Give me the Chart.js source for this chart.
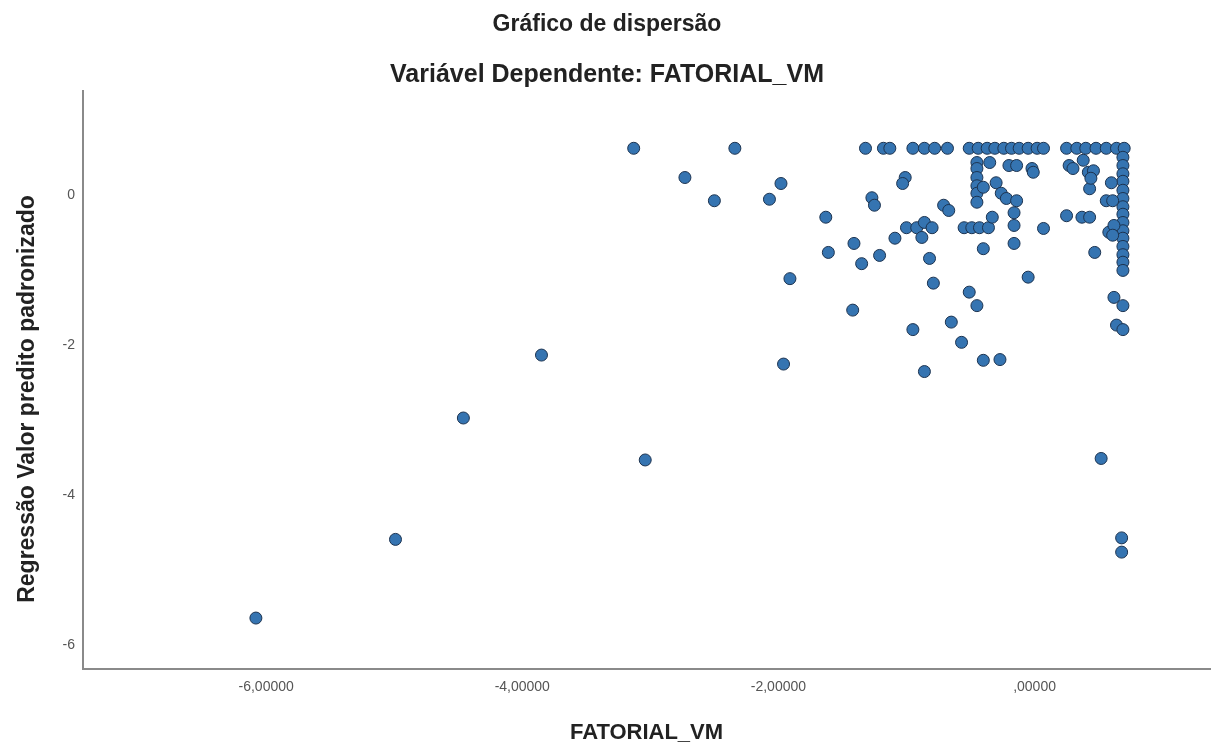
<!DOCTYPE html>
<html lang="pt">
<head>
<meta charset="utf-8">
<title>Gráfico de dispersão</title>
<script src="https://cdn.jsdelivr.net/npm/chart.js@4.4.1/dist/chart.umd.min.js"></script>
<style>
  html, body { margin: 0; padding: 0; background: #fff; }
  .wrap { width: 1217px; height: 746px; position: relative; }
</style>
</head>
<body>
<div class="wrap"><canvas id="scatterChart"></canvas></div>
<script>
// Valores (FATORIAL_VM x valor predito padronizado)
const fatorialVM = [
  // linha superior
  -3.13, -2.34, -1.32, -1.18, -1.13, -0.95, -0.86, -0.78, -0.68, -0.51, -0.44, -0.37, -0.31,
  -0.24, -0.18, -0.12, -0.05, 0.02, 0.07, 0.25, 0.33, 0.40, 0.48, 0.56, 0.64, 0.70,
  // coluna da direita
  0.69, 0.69, 0.69, 0.69, 0.69, 0.69, 0.69, 0.69, 0.69, 0.69, 0.69, 0.69, 0.69, 0.69, 0.69,
  // direita
  0.62, 0.69, 0.64, 0.69, 0.52, 0.68, 0.68,
  0.25, 0.37, 0.43, 0.47, 0.58, 0.62, 0.56, 0.60, 0.43, 0.27, 0.30, 0.38, 0.42, 0.46, 0.44, 0.61, 0.61,
  // meio
  -0.45, -0.35, -0.20, -0.14, -0.02, -0.01,
  -0.45, -0.45, -0.45, -0.45, -0.45,
  -0.40, -0.30, -0.26, -0.22, -0.14, -0.16,
  -0.71, -0.67,
  -0.55, -0.49, -0.43, -0.36, -0.33, -0.16, 0.07,
  -0.40, -0.16, -0.05,
  // meio esquerda
  -1.01, -1.03, -1.27, -1.25, -1.41, -1.21, -1.35, -1.09, -1.00, -0.92, -0.86, -0.88, -0.80, -0.82, -0.79,
  -1.63, -1.61, -1.42, -1.91, -1.96, -1.98, -2.07, -2.50, -2.73,
  // parte de baixo
  -0.51, -0.45, -0.65, -0.95, -0.57, -0.40, -0.27, -0.86,
  // extremo esquerdo
  -6.08, -4.99, -4.46, -3.85, -3.04
];
const valorPredito = [
  0.63, 0.63, 0.63, 0.63, 0.63, 0.63, 0.63, 0.63, 0.63, 0.63, 0.63, 0.63, 0.63,
  0.63, 0.63, 0.63, 0.63, 0.63, 0.63, 0.63, 0.63, 0.63, 0.63, 0.63, 0.63, 0.63,
  0.51, 0.40, 0.29, 0.19, 0.07, -0.04, -0.15, -0.25, -0.36, -0.47, -0.57, -0.68, -0.79, -0.89, -1.00,
  -1.36, -1.47, -1.73, -1.79, -3.51, -4.57, -4.76,
  -0.27, -0.29, -0.29, -0.76, -0.49, -0.40, -0.07, 0.17, 0.09, 0.40, 0.36, 0.47, 0.31, 0.33, 0.23, -0.07, -0.53,
  0.44, 0.44, 0.40, 0.40, 0.36, 0.31,
  0.36, 0.24, 0.13, 0.03, -0.09,
  0.11, 0.17, 0.03, -0.04, -0.07, -0.23,
  -0.13, -0.20,
  -0.43, -0.43, -0.43, -0.43, -0.29, -0.40, -0.44,
  -0.71, -0.64, -1.09,
  0.24, 0.16, -0.03, -0.13, -0.64, -0.80, -0.91, -0.57, -0.43, -0.43, -0.36, -0.56, -0.43, -0.84, -1.17,
  -0.29, -0.76, -1.53, -1.11, -2.25, 0.16, -0.05, -0.07, 0.24,
  -1.29, -1.47, -1.69, -1.79, -1.96, -2.20, -2.19, -2.35,
  -5.64, -4.59, -2.97, -2.13, -3.53
];
const xTicks = [-6, -4, -2, 0];
const xTickLabels = ['-6,00000', '-4,00000', '-2,00000', ',00000'];
const yTicks = [-6, -4, -2, 0];
const yTickLabels = ['-6', '-4', '-2', '0'];

document.addEventListener('DOMContentLoaded', function() {
    const ctx = document.getElementById('scatterChart').getContext('2d');
    const fonte = 'Liberation Sans, Arial, sans-serif';

    const pontos = fatorialVM.map(function(x, i) {
        return { x: x, y: valorPredito[i] };
    });

    new Chart(ctx, {
        type: 'scatter',
        data: {
            datasets: [{
                data: pontos,
                backgroundColor: '#3574b1',
                borderColor: '#1c3350',
                borderWidth: 1,
                pointRadius: 6,
                pointHoverRadius: 6
            }]
        },
        options: {
            responsive: true,
            maintainAspectRatio: false,
            animation: false,
            layout: { padding: { left: 0, right: 3, top: 0, bottom: 0 } },
            plugins: {
                legend: { display: false },
                tooltip: { enabled: false },
                title: {
                    display: true,
                    text: 'Gráfico de dispersão',
                    color: '#222',
                    font: { family: fonte, size: 23, weight: 'bold' },
                    padding: { top: 11, bottom: 6 }
                },
                subtitle: {
                    display: true,
                    text: 'Variável Dependente: FATORIAL_VM',
                    color: '#222',
                    font: { family: fonte, size: 25, weight: 'bold' },
                    padding: { top: 16, bottom: 0 }
                }
            },
            scales: {
                x: {
                    type: 'linear',
                    min: -7.43,
                    max: 1.37,
                    grid: { display: false, drawTicks: false },
                    border: { display: true, color: '#8a8a8a', width: 2 },
                    afterBuildTicks: function(scale) {
                        scale.ticks = xTicks.map(function(v) { return { value: v }; });
                    },
                    afterFit: function(scale) { scale.height = 77; },
                    ticks: {
                        padding: 10,
                        color: '#555',
                        font: { family: fonte, size: 14 },
                        callback: function(value) { return xTickLabels[xTicks.indexOf(value)]; }
                    },
                    title: {
                        display: true,
                        text: 'FATORIAL_VM',
                        color: '#222',
                        font: { family: fonte, size: 22, weight: 'bold' },
                        padding: { top: 0, bottom: 0 }
                    }
                },
                y: {
                    type: 'linear',
                    min: -6.32,
                    max: 1.40,
                    grid: { display: false, drawTicks: false },
                    border: { display: true, color: '#8a8a8a', width: 2 },
                    afterBuildTicks: function(scale) {
                        scale.ticks = yTicks.map(function(v) { return { value: v }; });
                    },
                    afterFit: function(scale) { scale.width = 83; },
                    ticks: {
                        padding: 8,
                        color: '#555',
                        font: { family: fonte, size: 14 },
                        callback: function(value) { return yTickLabels[yTicks.indexOf(value)]; }
                    },
                    title: {
                        display: true,
                        // espaços no fim empurram o texto um pouco para baixo, como no original
                        text: 'Regressão Valor predito padronizado      ',
                        color: '#222',
                        font: { family: fonte, size: 23, weight: 'bold' },
                        padding: { top: 14, bottom: 0 }
                    }
                }
            }
        }
    });
});
</script>
</body>
</html>
